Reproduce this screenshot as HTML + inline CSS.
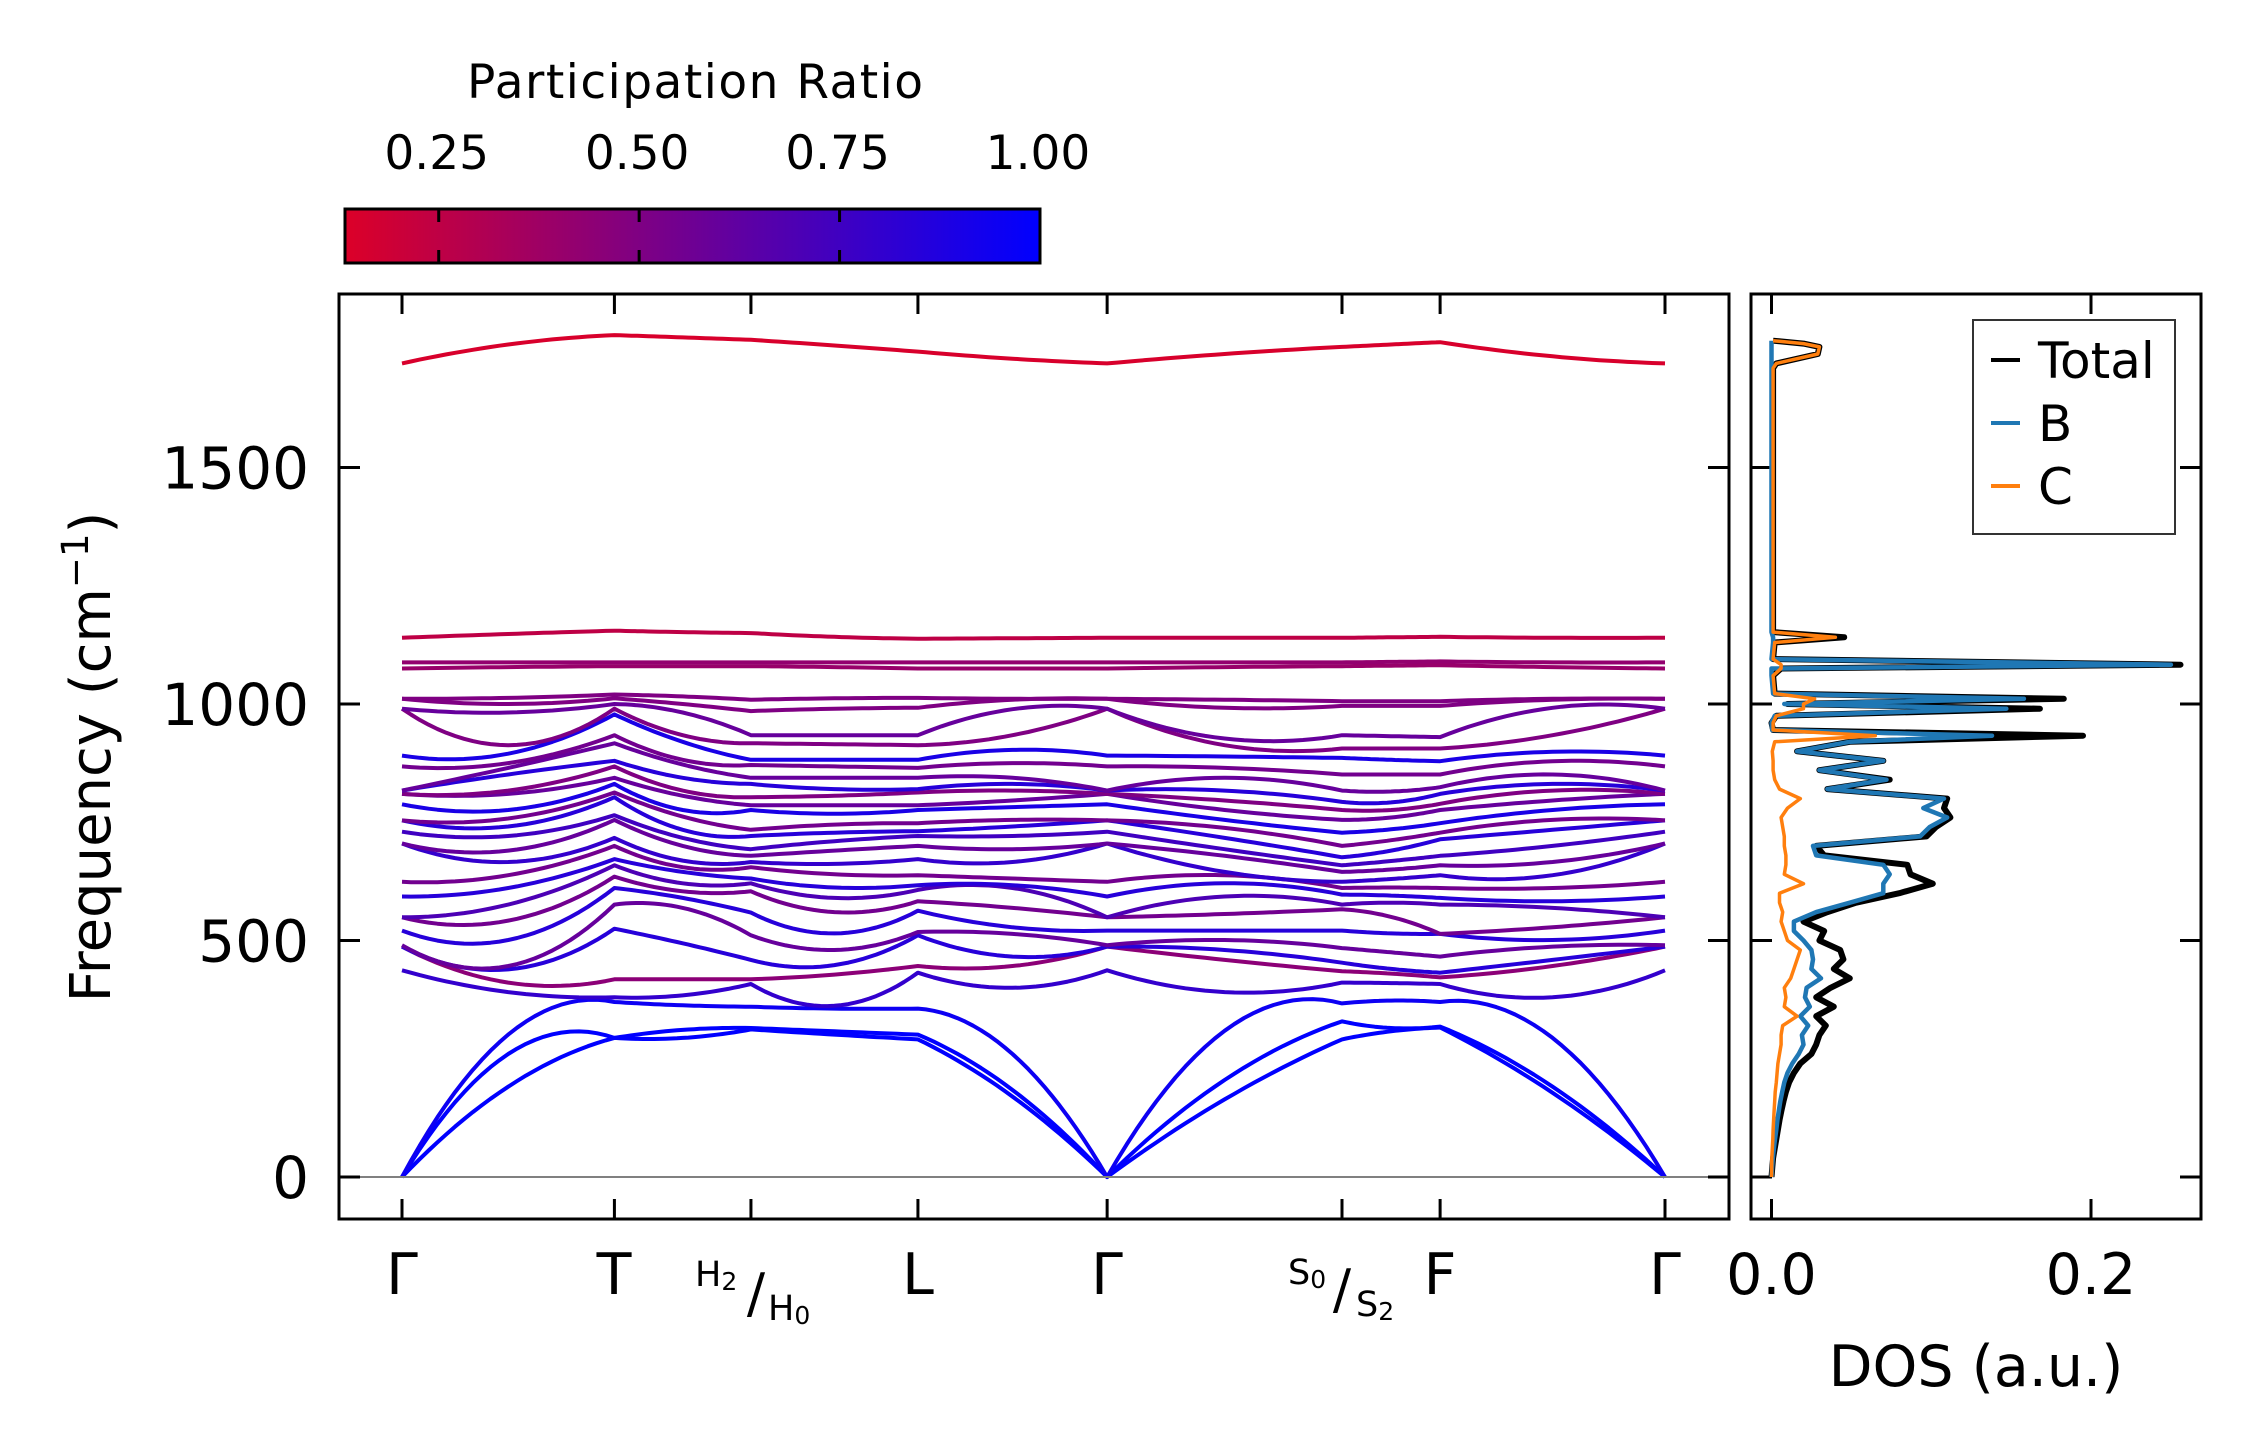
<!DOCTYPE html>
<html><head><meta charset="utf-8"><style>
html,body{margin:0;padding:0;background:#fff;}
svg{display:block;font-family:"DejaVu Sans","Liberation Sans",sans-serif;}
</style></head><body>
<svg id="chart" width="2259" height="1455" viewBox="0 0 2259 1455" xmlns="http://www.w3.org/2000/svg">
<defs>
<linearGradient id="cmap" x1="0" y1="0" x2="1" y2="0">
<stop offset="0" stop-color="rgb(220,0,40)"/>
<stop offset="1" stop-color="rgb(0,0,255)"/>
</linearGradient>
<clipPath id="clipMain"><rect x="339" y="294" width="1390" height="925"/></clipPath>
<clipPath id="clipDos"><rect x="1751" y="294" width="450" height="925"/></clipPath>
</defs>
<rect width="2259" height="1455" fill="#fff"/>
<g>
<text x="695" y="98" font-size="47" text-anchor="middle" textLength="456">Participation Ratio</text>
<rect x="345" y="209" width="695" height="54" fill="url(#cmap)" stroke="#000" stroke-width="3"/>
<g id="cbTicks"></g>
</g>
<g id="mainAxes">
<g id="bands" clip-path="url(#clipMain)"></g>
<line x1="339" y1="1177" x2="1729" y2="1177" stroke="#808080" stroke-width="2"/>
<rect x="339" y="294" width="1390" height="925" fill="none" stroke="#000" stroke-width="3"/>
<g id="mainTicks"></g>
<text x="110" y="757" font-size="56" text-anchor="middle" transform="rotate(-90 110 757)">Frequency (cm<tspan font-size="37" dy="-22">−1</tspan><tspan dy="22">)</tspan></text>
<g font-size="57" text-anchor="middle">
<text x="402" y="1294">Γ</text>
<text x="614" y="1294">T</text>
<text x="695" y="1286" font-size="35" text-anchor="start">H<tspan font-size="25" dy="4">2</tspan></text>
<text x="756" y="1312" font-size="54">/</text>
<text x="768" y="1320" font-size="35" text-anchor="start">H<tspan font-size="25" dy="4">0</tspan></text>
<text x="918" y="1294">L</text>
<text x="1107" y="1294">Γ</text>
<text x="1288" y="1284" font-size="35" text-anchor="start">S<tspan font-size="25" dy="4">0</tspan></text>
<text x="1342" y="1308" font-size="54">/</text>
<text x="1356" y="1316" font-size="35" text-anchor="start">S<tspan font-size="25" dy="4">2</tspan></text>
<text x="1440" y="1294">F</text>
<text x="1665" y="1294">Γ</text>
</g>
</g>
<g id="dosAxes">
<g id="dosLines" clip-path="url(#clipDos)"></g>
<rect x="1751" y="294" width="450" height="925" fill="none" stroke="#000" stroke-width="3"/>
<g id="dosTicks"></g>
<text x="1976" y="1386" font-size="57" text-anchor="middle">DOS (a.u.)</text>
<g>
<rect x="1973" y="320" width="202" height="214" fill="#fff" stroke="#333" stroke-width="2"/>
<line x1="1991" y1="360" x2="2020" y2="360" stroke="#000" stroke-width="4"/>
<text x="2038" y="378" font-size="50">Total</text>
<line x1="1991" y1="423" x2="2020" y2="423" stroke="#1f77b4" stroke-width="4"/>
<text x="2038" y="441" font-size="50">B</text>
<line x1="1991" y1="486" x2="2020" y2="486" stroke="#ff7f0e" stroke-width="4"/>
<text x="2038" y="504" font-size="50">C</text>
</g>
</g>
</svg>
<script>
// ---- Band structure data (frequencies in cm^-1, sorted, at each k sample) ----
const kNodes = [0, 0.851, 1.398, 2.067, 2.825, 3.766, 4.159, 5.060];
const nodeNames = ["Γ","T","H","L","Γ","S","F","Γ"];
const colG  = [0,0,0,437,487,487,490,521,549,549,593,624,705,705,730,754,754,788,810,810,817,817,868,891,990,990,1011,1011,1075,1088,1140,1720];
const colM1 = [191,260,301,391,411,439,446,501,542,576,611,638,666,690,721,741,758,776,810,817,851,865,875,895,913,982,1000,1013,1078,1088,1148,1760];
const colT  = [294,294,370,380,418,525,576,611,635,659,672,700,717,755,765,803,813,831,844,868,880,917,934,978,990,1000,1012,1020,1080,1088,1155,1780];
const colM2 = [294,311,363,384,418,494,569,590,604,621,645,655,669,700,717,734,762,776,806,817,844,872,882,920,934,982,1000,1016,1080,1088,1152,1775];
const colH  = [312,315,360,408,418,459,511,559,604,621,631,655,666,679,693,721,734,776,786,803,831,844,871,882,917,934,985,1009,1080,1088,1150,1770];
const colM3 = [301,308,356,362,428,448,480,515,560,590,612,640,662,690,710,728,745,768,786,806,820,844,868,882,915,934,990,1012,1078,1088,1142,1758];
const colL  = [291,301,356,432,446,511,518,563,583,607,617,638,672,700,721,731,748,776,786,813,820,844,865,882,913,934,992,1013,1075,1088,1138,1745];
const colM4 = [170,184,260,400,446,466,514,528,569,611,617,631,666,693,721,741,755,782,796,817,831,844,875,903,934,989,1009,1011,1075,1088,1139,1730];
const colM5 = [164,205,309,391,459,480,501,521,556,593,621,638,645,679,693,717,738,755,776,796,817,844,865,889,913,927,992,1009,1078,1088,1140,1740];
const colS  = [291,329,367,411,435,453,484,521,566,576,597,611,624,645,659,676,700,728,755,776,793,817,851,886,906,934,996,1006,1080,1088,1140,1755];
const colM6 = [308,315,373,410,430,440,475,515,550,580,595,612,630,650,668,690,712,735,760,776,792,815,851,882,906,932,996,1006,1081,1089,1141,1760];
const colF  = [316,318,370,408,422,432,466,514,514,576,590,611,638,659,679,714,728,748,776,789,810,824,851,879,906,930,996,1006,1082,1090,1142,1765];
const colM7 = [178,191,294,380,446,459,487,501,528,569,583,611,638,666,700,734,755,776,796,817,831,851,879,899,934,992,1009,1011,1078,1088,1140,1735];
const bandPR = [1,1,0.95,0.8,0.45,0.85,0.6,0.85,0.55,0.7,0.85,0.55,0.8,0.6,0.75,0.85,0.55,0.9,0.6,0.5,0.85,0.6,0.55,0.9,0.5,0.6,0.5,0.5,0.4,0.42,0.25,0.15];

// ---- DOS data ----
const dosFreq  = [0,20,40,60,80,100,120,140,160,180,200,220,240,260,280,300,320,340,360,380,400,420,440,460,480,500,520,540,560,580,600,620,640,660,680,700,720,740,760,780,800,820,840,860,880,900,920,933,945,960,975,990,1000,1011,1022,1060,1075,1083,1095,1130,1141,1152,1400,1710,1720,1740,1755,1762,1768];
const dosTotal = [0,.0005,.001,.002,.003,.004,.005,.0062,.0075,.009,.011,.014,.018,.025,.028,.030,.034,.028,.039,.028,.037,.049,.039,.045,.043,.030,.033,.020,.035,.053,.080,.101,.087,.085,.033,.028,.097,.103,.112,.108,.110,.035,.074,.030,.070,.016,.049,.195,.001,0,.003,.168,.010,.183,.002,.001,.006,.256,.001,.002,.0455,.001,.001,.001,.003,.029,.030,.020,.001];
const dosB     = [0,.0004,.0008,.0015,.0022,.003,.0037,.0046,.0055,.0067,.008,.010,.013,.017,.020,.019,.023,.018,.024,.021,.022,.031,.025,.026,.025,.020,.014,.014,.028,.049,.070,.070,.074,.070,.028,.026,.093,.099,.110,.095,.108,.035,.072,.030,.070,.016,.049,.138,.0005,0,.002,.147,.008,.158,.001,0,0,.250,0,.001,.001,0,0,0,0,0,0,0,0];
const dosC     = [0,.0001,.0002,.0005,.0008,.001,.0013,.0016,.002,.0023,.003,.0035,.004,.005,.006,.006,.007,.016,.008,.009,.008,.012,.014,.016,.018,.010,.008,.006,.007,.005,.005,.020,.008,.009,.009,.008,.008,.007,.006,.010,.018,.005,.002,.001,.001,.0005,.002,.065,.001,.001,.003,.020,.020,.027,.002,.001,.006,.006,.001,.002,.040,.001,.001,.001,.003,.029,.030,.020,.001];

const yTicks = [0,500,1000,1500];
const cbTicks = [0.25,0.5,0.75,1.0];
const dosTicks = [0.0,0.2];

// ---- scales ----
const Y0 = 1177, YS = 0.473;
function yScale(f){ return Y0 - f*YS; }
function xScale(k){ return 402 + (k/5.060)*1263; }
function dosX(v){ return 1771.5 + v*1597.5; }
function cbX(v){ return 345 + (v-0.1331)/(1-0.1331)*695; }
function prColor(p){
  let t=(p-0.1331)/(1-0.1331); t=Math.max(0,Math.min(1,t));
  return 'rgb('+Math.round(220*(1-t))+',0,'+Math.round(40+215*t)+')';
}
const NS='http://www.w3.org/2000/svg';
function mk(tag, attrs, parent){
  const e=document.createElementNS(NS,tag);
  for(const k in attrs) e.setAttribute(k, attrs[k]);
  parent.appendChild(e); return e;
}

const cols = [colG,colM1,colT,colM2,colH,colM3,colL,colM4,colG,colM5,colS,colM6,colF,colM7,colG];
const bandsG = document.getElementById('bands');
const nb = colG.length;
for(let b=0;b<nb;b++){
  let d='';
  for(let s=0;s<7;s++){
    const k0=kNodes[s], k1=kNodes[s+1];
    const f0=cols[2*s][b], fm=cols[2*s+1][b], f1=cols[2*s+2][b];
    for(let i=0;i<=24;i++){
      const u=i/24;
      const f = f0*(1-u)*(1-2*u) + fm*4*u*(1-u) + f1*u*(2*u-1);
      const x = xScale(k0+(k1-k0)*u), y=yScale(f);
      d += (s===0&&i===0?'M':'L')+x.toFixed(1)+' '+y.toFixed(1)+' ';
    }
  }
  const p = mk('path',{d:d,fill:'none',stroke:prColor(bandPR[b]),'stroke-width':4,'stroke-linejoin':'round'},bandsG);
  
  
}

const mt=document.getElementById('mainTicks');
kNodes.forEach((k,i)=>{
  const x=xScale(k);
  const t1=mk('line',{x1:x,y1:294,x2:x,y2:314,stroke:'#000','stroke-width':3},mt);
  
  
  const t2=mk('line',{x1:x,y1:1219,x2:x,y2:1199,stroke:'#000','stroke-width':3},mt);
  
  
});
yTicks.forEach(v=>{
  const y=yScale(v);
  const a=mk('line',{x1:339,y1:y,x2:360,y2:y,stroke:'#000','stroke-width':3},mt);
  
  
  const b=mk('line',{x1:1729,y1:y,x2:1708,y2:y,stroke:'#000','stroke-width':3},mt);
  
  
  const t=mk('text',{x:309,y:y+21,'font-size':58,'text-anchor':'end'},mt);
  t.textContent=String(v);
  
  
  const c=mk('line',{x1:1751,y1:y,x2:1772,y2:y,stroke:'#000','stroke-width':3},mt);
  
  
  const d=mk('line',{x1:2201,y1:y,x2:2180,y2:y,stroke:'#000','stroke-width':3},mt);
  
  
});

const cbt=document.getElementById('cbTicks');
cbTicks.forEach(v=>{
  const x=cbX(v);
  if(v<1){
    const a=mk('line',{x1:x,y1:209,x2:x,y2:222,stroke:'#000','stroke-width':3},cbt);
    
    
    const b=mk('line',{x1:x,y1:263,x2:x,y2:250,stroke:'#000','stroke-width':3},cbt);
    
    
  }
  const t=mk('text',{x:x-2,y:169,'font-size':47,'text-anchor':'middle'},cbt);
  t.textContent=v.toFixed(2);
  
  
});

const dl=document.getElementById('dosLines');
function dosPath(vals,color,w,name){
  let d='';
  dosFreq.forEach((f,i)=>{ d+=(i?'L':'M')+dosX(vals[i]).toFixed(1)+' '+yScale(f).toFixed(1)+' '; });
  const p=mk('path',{d:d,fill:'none',stroke:color,'stroke-width':w,'stroke-linejoin':'round'},dl);
  
  
}
dosPath(dosTotal,'#000',6,'dos-total-line');
dosPath(dosB,'#1f77b4',4.5,'dos-b-line');
dosPath(dosC,'#ff7f0e',3.5,'dos-c-line');
const dt=document.getElementById('dosTicks');
dosTicks.forEach(v=>{
  const x=dosX(v);
  const a=mk('line',{x1:x,y1:294,x2:x,y2:314,stroke:'#000','stroke-width':3},dt);
  
  
  const b=mk('line',{x1:x,y1:1219,x2:x,y2:1199,stroke:'#000','stroke-width':3},dt);
  
  
  const t=mk('text',{x:x,y:1294,'font-size':57,'text-anchor':'middle'},dt);
  t.textContent=v.toFixed(1);
  
  
});
</script>
</body></html>
